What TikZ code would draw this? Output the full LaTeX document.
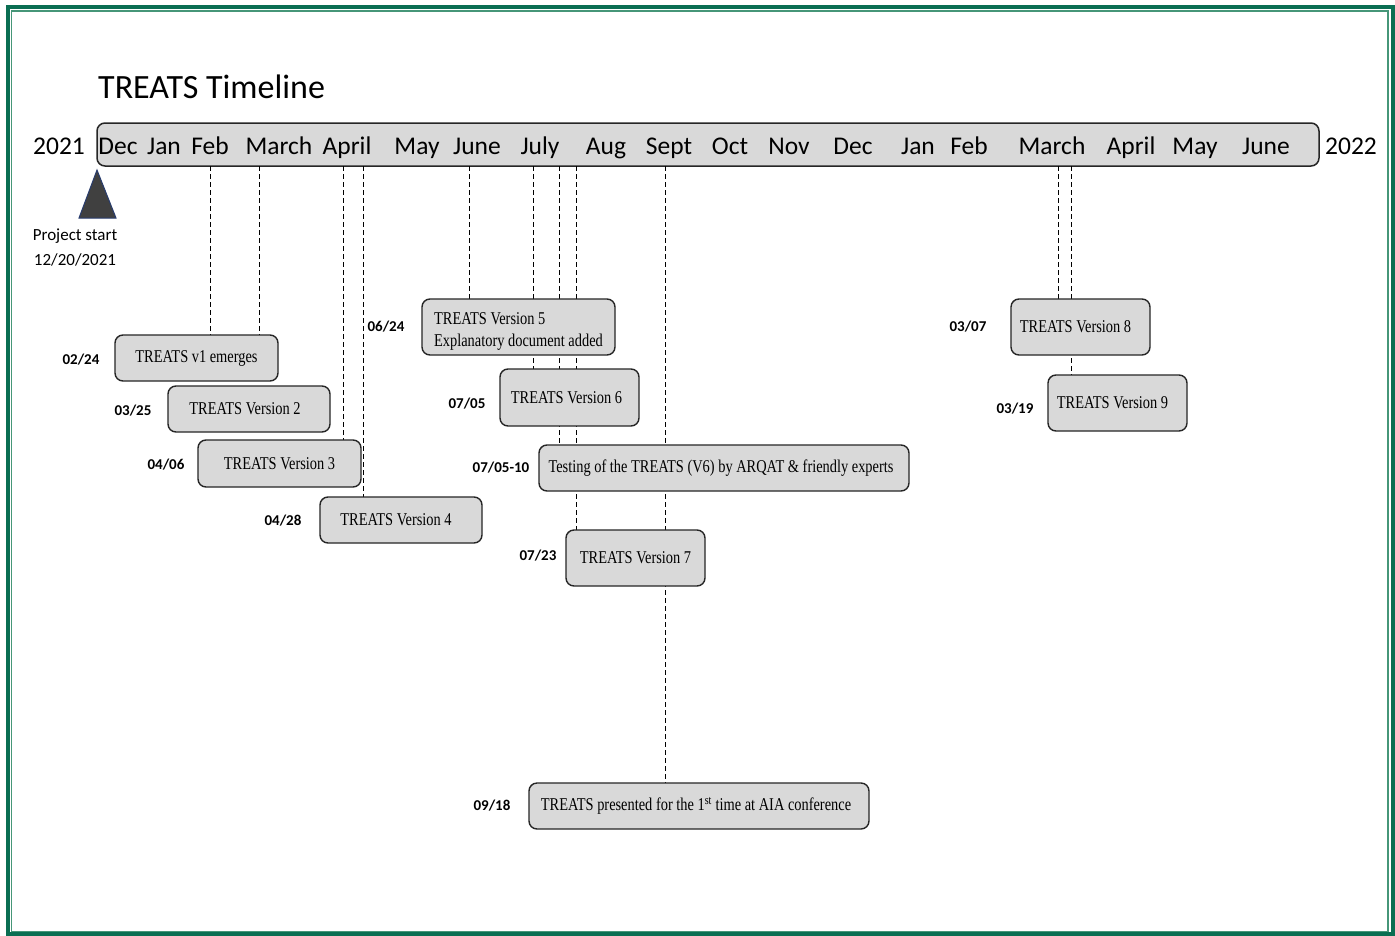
\documentclass[tikz,border=0pt]{standalone}
\usepackage{fontspec}
\setmainfont{Carlito}
\newfontfamily\boxfont[FakeStretch=0.8]{Liberation Serif}
\definecolor{frameG}{RGB}{10,110,82}
\definecolor{frameL}{RGB}{70,150,120}
\definecolor{barfill}{RGB}{217,217,217}
\definecolor{triFill}{RGB}{64,64,64}
\definecolor{triLine}{RGB}{40,60,110}
\begin{document}
\begin{tikzpicture}[x=1pt,y=-1pt,
  evbox/.style={draw=black!85,line width=1.4pt,rounded corners=8pt,fill=barfill,
     inner sep=0pt,font=\boxfont\fontsize{18}{21.5}\selectfont},
  datelbl/.style={font=\bfseries\fontsize{15}{18}\selectfont,inner sep=0pt},
  month/.style={font=\fontsize{25.5}{30}\selectfont,inner sep=0pt,anchor=base},
  guide/.style={line width=0.9pt,dash pattern=on 5pt off 3pt}]
\useasboundingbox (0,0) rectangle (1395,935);
\fill[white] (0,0) rectangle (1395,935);
% frame
\draw[frameG,line width=4pt] (7.5,6.5) rectangle (1393,934);
\draw[frameL,line width=1.2pt] (11.5,11) rectangle (1388,931.5);
% title
\node[font=\fontsize{34}{40}\selectfont,anchor=base west,inner sep=0pt] (title) at (98,98) {TREATS Timeline};
% bar
\node[draw=black!85,line width=1.5pt,rounded corners=8pt,fill=barfill,minimum width=1222pt,minimum height=43pt,inner sep=0pt] (bar) at (708,144.5) {};
\node[month] (y21) at (59,154) {2021};
\node[month] (y22) at (1351,154) {2022};
\foreach \x/\m [count=\i] in {118/Dec,164/Jan,210/Feb,279/March,347/April,417/May,477/June,540/July,606/Aug,669/Sept,730/Oct,789/Nov,853/Dec,918/Jan,969/Feb,1052/March,1131/April,1195/May,1266/June}
  \node[month] (m\i) at (\x,154) {\m};
% project start
\draw[triLine,fill=triFill,line width=1pt] (97,170) -- (116,218) -- (79,218) -- cycle;
\node[font=\fontsize{17}{25}\selectfont,align=center,inner sep=0pt] (pstart) at (75,247.5) {Project start\\12/20/2021};
% guide start coordinates on bar bottom
\foreach \n/\x in {g1/210,g2/259,g3/343,g4/363,g5/469,g6/533,g7/559,g8/576,g9/665,g10/1058,g11/1071}
  \coordinate (\n) at (\x,166);
% box centres
\coordinate (b1) at (196.5,358);
\coordinate (b2) at (249,409);
\coordinate (b3) at (279.5,463.5);
\coordinate (b4) at (401,520);
\coordinate (b5) at (518.5,327);
\coordinate (b6) at (569.5,397.5);
\coordinate (bt) at (724,468);
\coordinate (b7) at (635.5,558);
\coordinate (bc) at (699,806);
\coordinate (b8) at (1080.5,327);
\coordinate (b9) at (1117.5,403);
% guides (drawn before boxes)
\draw[guide] (g1) -- (g1 |- 0,335);
\draw[guide] (g2) -- (g2 |- 0,335);
\draw[guide] (g3) -- (g3 |- 0,440);
\draw[guide] (g4) -- (g4 |- 0,497);
\draw[guide] (g5) -- (g5 |- 0,299);
\draw[guide] (g6) -- (g6 |- 0,369);
\draw[guide] (g7) -- (g7 |- 0,445);
\draw[guide] (g8) -- (g8 |- 0,530);
\draw[guide] (g9) -- (g9 |- 0,783);
\draw[guide] (g10) -- (g10 |- 0,299);
\draw[guide] (g11) -- (g11 |- 0,375);
% boxes
\node[evbox,minimum width=163pt,minimum height=46pt] (v1) at (b1) {TREATS v1 emerges};
\node[evbox,minimum width=162pt,minimum height=46pt] (v2) at (b2) {\hspace*{-8pt}TREATS Version 2};
\node[evbox,minimum width=163pt,minimum height=47pt] (v3) at (b3) {TREATS Version 3};
\node[evbox,minimum width=162pt,minimum height=46pt] (v4) at (b4) {\hspace*{-10pt}TREATS Version 4};
\node[evbox,minimum width=193pt,minimum height=56pt] (v5) at (b5) {\raisebox{-8.5pt}[0pt][0pt]{\begin{tabular}{@{}l@{}}TREATS Version 5\\Explanatory document added\end{tabular}}};
\node[evbox,minimum width=139pt,minimum height=57pt] (v6) at (b6) {\hspace*{-6pt}TREATS Version 6};
\node[evbox,minimum width=370pt,minimum height=46pt] (vt) at (bt) {\hspace*{-6pt}Testing of the TREATS (V6) by ARQAT \& friendly experts};
\node[evbox,minimum width=139pt,minimum height=56pt] (v7) at (b7) {TREATS Version 7};
\node[evbox,minimum width=340pt,minimum height=46pt] (vc) at (bc) {\hspace*{-6pt}TREATS presented for the 1\textsuperscript{st} time at AIA conference};
\node[evbox,minimum width=139pt,minimum height=56pt] (v8) at (b8) {\hspace*{-10pt}TREATS Version 8};
\node[evbox,minimum width=139pt,minimum height=56pt] (v9) at (b9) {\hspace*{-10pt}TREATS Version 9};
% date labels
\node[datelbl] (d1) at (81,360) {02/24};
\node[datelbl] (d2) at (133,411) {03/25};
\node[datelbl] (d3) at (166,465) {04/06};
\node[datelbl] (d4) at (283,521) {04/28};
\node[datelbl] (d5) at (386,327) {06/24};
\node[datelbl] (d6) at (467,404) {07/05};
\node[datelbl] (dt) at (501,468) {07/05-10};
\node[datelbl] (d7) at (538,556) {07/23};
\node[datelbl] (dc) at (492,806) {09/18};
\node[datelbl] (d8) at (968,327) {03/07};
\node[datelbl] (d9) at (1015,409) {03/19};
\end{tikzpicture}
\end{document}
